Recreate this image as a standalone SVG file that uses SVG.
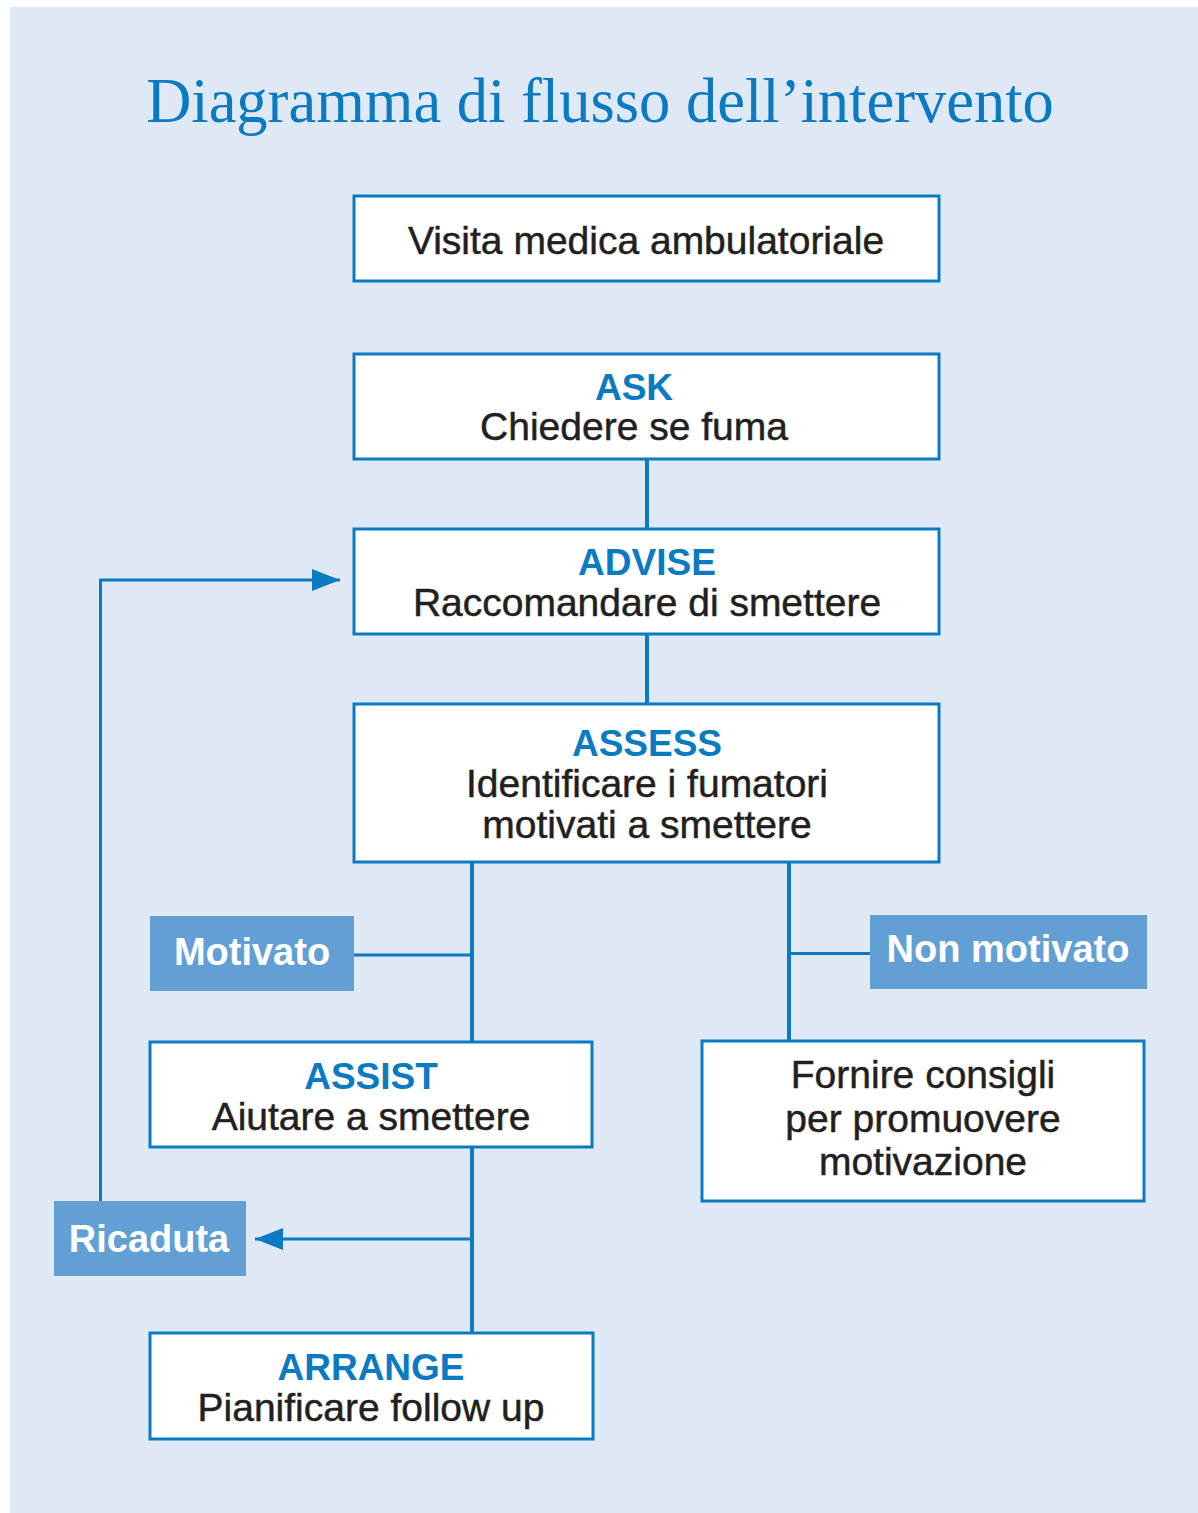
<svg xmlns="http://www.w3.org/2000/svg" width="1198" height="1513" viewBox="0 0 1198 1513">
<defs>
<style>
.box{fill:#ffffff;stroke:#0a7ac2;stroke-width:3}
.lab{fill:#629fd5}
.t{font-family:"Liberation Sans",Arial,sans-serif;font-size:39px;fill:#231f20;stroke:#231f20;stroke-width:0.5;text-anchor:middle}
.b{font-family:"Liberation Sans",Arial,sans-serif;font-size:37px;font-weight:bold;fill:#0a7ac2;text-anchor:middle}
.w{font-family:"Liberation Sans",Arial,sans-serif;font-size:38px;font-weight:bold;fill:#ffffff;text-anchor:middle}
.c{stroke:#0a7ac2;fill:none}
.thick{stroke-width:4}
.thin{stroke-width:3}
</style>
<marker id="ah" markerUnits="userSpaceOnUse" markerWidth="28" markerHeight="22" refX="28" refY="11" orient="auto">
<path d="M0,0 L28,11 L0,22 Z" fill="#0a7ac2"/>
</marker>
</defs>
<rect x="10" y="7" width="1188" height="1506" fill="#dfe9f5"/>
<text x="600" y="122" font-family="'Liberation Serif','Times New Roman',serif" font-size="62.5" fill="#0a7ac2" text-anchor="middle">Diagramma di flusso dell’intervento</text>

<g id="connectors">
<line class="c thick" x1="647" y1="459" x2="647" y2="529"/>
<line class="c thick" x1="647" y1="634" x2="647" y2="704"/>
<line class="c thick" x1="472" y1="862" x2="472" y2="1042"/>
<line class="c thin" x1="354" y1="955" x2="472" y2="955"/>
<line class="c thick" x1="789" y1="862" x2="789" y2="1041"/>
<line class="c thin" x1="789" y1="953.5" x2="870" y2="953.5"/>
<line class="c thick" x1="472" y1="1147" x2="472" y2="1333"/>
<line class="c thin" x1="472" y1="1239" x2="255" y2="1239" marker-end="url(#ah)"/>
<polyline class="c thin" points="100.5,1201 100.5,580 340,580" marker-end="url(#ah)"/>
</g>

<g id="visita">
<rect class="box" x="354" y="196" width="585" height="85"/>
<text class="t" x="646" y="254">Visita medica ambulatoriale</text>
</g>
<g id="ask">
<rect class="box" x="354" y="354" width="585" height="105"/>
<text class="b" x="634" y="400">ASK</text>
<text class="t" x="634" y="440">Chiedere se fuma</text>
</g>
<g id="advise">
<rect class="box" x="354" y="529" width="585" height="105"/>
<text class="b" x="647" y="575">ADVISE</text>
<text class="t" x="647" y="616">Raccomandare di smettere</text>
</g>
<g id="assess">
<rect class="box" x="354" y="704" width="585" height="158"/>
<text class="b" x="647" y="756">ASSESS</text>
<text class="t" x="647" y="797">Identificare i fumatori</text>
<text class="t" x="647" y="838">motivati a smettere</text>
</g>
<g id="motivato">
<rect class="lab" x="150" y="916" width="204" height="75"/>
<text class="w" x="252" y="965">Motivato</text>
</g>
<g id="nonmotivato">
<rect class="lab" x="870" y="915" width="277" height="74"/>
<text class="w" x="1008" y="962">Non motivato</text>
</g>
<g id="assist">
<rect class="box" x="150" y="1042" width="442" height="105"/>
<text class="b" x="371" y="1089">ASSIST</text>
<text class="t" x="371" y="1130">Aiutare a smettere</text>
</g>
<g id="fornire">
<rect class="box" x="702" y="1041" width="442" height="160"/>
<text class="t" x="923" y="1088">Fornire consigli</text>
<text class="t" x="923" y="1132">per promuovere</text>
<text class="t" x="923" y="1175">motivazione</text>
</g>
<g id="ricaduta">
<rect class="lab" x="54" y="1201" width="192" height="75"/>
<text class="w" x="149" y="1252">Ricaduta</text>
</g>
<g id="arrange">
<rect class="box" x="150" y="1333" width="443" height="106"/>
<text class="b" x="371" y="1380">ARRANGE</text>
<text class="t" x="371" y="1421">Pianificare follow up</text>
</g>
</svg>
